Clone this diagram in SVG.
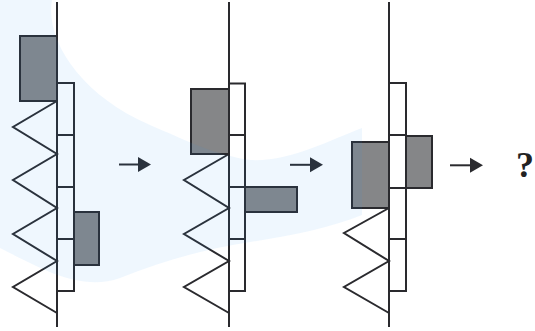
<svg xmlns="http://www.w3.org/2000/svg" width="535" height="331" viewBox="0 0 535 331">
  <style>
    .ln { stroke: #2a2a2e; stroke-width: 2; fill: none; }
    .stk { stroke: #2a2a2e; stroke-width: 2; fill: none; }
    .gr { fill: #858688; stroke: #2a2a2e; stroke-width: 2; }
    .zz { stroke: #2a2a2e; stroke-width: 2; fill: none; stroke-linejoin: miter; }
    .ar { stroke: #2a2a2e; stroke-width: 2; }
    .ah { fill: #2a2a2e; }
    .q { font-family: "Liberation Serif", "Times New Roman", serif; font-weight: bold; font-size: 36px; fill: #222; }
  </style>
  <rect width="535" height="331" fill="#ffffff"/>

  <g id="panel1">
    <rect class="gr" x="20" y="36" width="37" height="65"/>
    <rect class="gr" x="74" y="212" width="25" height="53"/>
    <rect class="stk" x="57" y="83" width="17" height="208"/>
    <path class="stk" d="M57,135H74M57,187H74M57,239H74"/>
    <polyline class="zz" points="57,101 13,127 57,154 13,180 57,208 13,234 57,261 13,287 57,313"/>
    <line class="ln" x1="57" y1="2" x2="57" y2="327"/>
  </g>

  <g id="panel2">
    <rect class="gr" x="191" y="89" width="38" height="65"/>
    <rect class="gr" x="245" y="187" width="52" height="25"/>
    <rect class="stk" x="229" y="83.5" width="16" height="207.5"/>
    <path class="stk" d="M229,135H245M229,187H245M229,239H245"/>
    <polyline class="zz" points="229,154 184,180 229,208 184,234 229,261 184,287 229,313"/>
    <line class="ln" x1="229" y1="2" x2="229" y2="327"/>
  </g>

  <g id="panel3">
    <rect class="gr" x="352" y="142" width="37" height="66"/>
    <rect class="gr" x="406" y="136" width="26" height="52"/>
    <rect class="stk" x="389" y="83" width="17" height="208"/>
    <path class="stk" d="M389,135H406M389,188H406M389,239H406"/>
    <polyline class="zz" points="389,208 344,233 389,261 344,287 389,313"/>
    <line class="ln" x1="389" y1="2" x2="389" y2="327"/>
  </g>

  <g id="connectors">
    <line class="ar" x1="119" y1="164.5" x2="140" y2="164.5"/>
    <polygon class="ah" points="151,164.5 138,157 138,172"/>
    <line class="ar" x1="290" y1="164.8" x2="311" y2="164.8"/>
    <polygon class="ah" points="323,164.8 310,157.3 310,172.3"/>
    <line class="ar" x1="450" y1="165.3" x2="471" y2="165.3"/>
    <polygon class="ah" points="483,165.3 470,157.8 470,172.8"/>
  </g>

  <g id="answer">
    <text class="q" x="525" y="177" text-anchor="middle">?</text>
  </g>

  <path id="watermark" fill="#3399ee" fill-opacity="0.08" d="M0,0 L52,0 C45,40 80,95 150,125 C190,142 215,155 250,160 C290,162 330,140 362,128 L362,215 C330,228 290,236 250,242 C200,250 160,262 120,278 C80,292 40,268 0,248 Z"/>
</svg>
